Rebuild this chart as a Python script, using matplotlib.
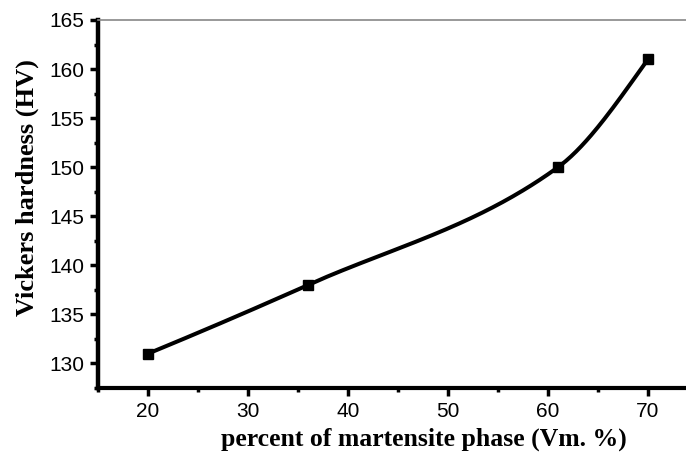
import numpy as np
import matplotlib.pyplot as plt
from matplotlib.ticker import MultipleLocator

# data
martensite = [20, 36, 61, 70]
hardness = [131, 138, 150, 161]


def pchip_curve(x, y, n=300):
    """Smooth monotone curve through the points (Fritsch-Carlson PCHIP)"""
    x = np.asarray(x, float)
    y = np.asarray(y, float)
    h = np.diff(x)
    delta = np.diff(y) / h
    k = len(x)
    d = np.zeros(k)
    for i in range(1, k - 1):
        if delta[i - 1] * delta[i] > 0:
            w1 = 2 * h[i] + h[i - 1]
            w2 = h[i] + 2 * h[i - 1]
            d[i] = (w1 + w2) / (w1 / delta[i - 1] + w2 / delta[i])
    d[0] = ((2 * h[0] + h[1]) * delta[0] - h[0] * delta[1]) / (h[0] + h[1])
    d[-1] = ((2 * h[-1] + h[-2]) * delta[-1] - h[-1] * delta[-2]) / (h[-1] + h[-2])
    xs = np.linspace(x[0], x[-1], n)
    idx = np.clip(np.searchsorted(x, xs) - 1, 0, k - 2)
    t = (xs - x[idx]) / h[idx]
    h00 = 2 * t ** 3 - 3 * t ** 2 + 1
    h10 = t ** 3 - 2 * t ** 2 + t
    h01 = -2 * t ** 3 + 3 * t ** 2
    h11 = t ** 3 - t ** 2
    ys = (h00 * y[idx] + h10 * h[idx] * d[idx]
          + h01 * y[idx + 1] + h11 * h[idx] * d[idx + 1])
    return xs, ys


fig = plt.figure(figsize=(6.86, 4.53), dpi=100)
ax = fig.add_axes([98 / 686, 65 / 453, 600 / 686, 368 / 453])

xs, ys = pchip_curve(martensite, hardness)
ax.plot(xs, ys, color='black', lw=2.9, zorder=2)
ax.plot(martensite, hardness, 's', color='black', ms=7.5, zorder=3)

ax.set_xlim(15, 75)
ax.set_ylim(127.5, 165)
ax.xaxis.set_minor_locator(MultipleLocator(5))
ax.yaxis.set_minor_locator(MultipleLocator(2.5))
ax.set_xticks([20, 30, 40, 50, 60, 70])
ax.set_yticks([130, 135, 140, 145, 150, 155, 160, 165])

ax.spines['left'].set_linewidth(3.2)
ax.spines['bottom'].set_linewidth(3.0)
ax.spines['top'].set_linewidth(1.2)
ax.spines['top'].set_color('#888888')
ax.spines['right'].set_visible(False)

ax.tick_params(which='major', direction='out', length=6, width=2.5,
               labelsize=15, pad=4)
ax.tick_params(which='minor', direction='out', length=3, width=2.5)
for lab in ax.get_xticklabels() + ax.get_yticklabels():
    lab.set_family('Liberation Sans')

ax.set_xlabel('percent of martensite phase (Vm. %)', family='Liberation Serif',
              fontweight='bold', fontsize=18.5)
ax.set_ylabel('Vickers hardness (HV)', family='Liberation Serif',
              fontweight='bold', fontsize=19)
ax.xaxis.set_label_coords(0.543, -0.108)
ax.yaxis.set_label_coords(-0.099, 0.546)

fig.savefig('out.png', dpi=100)
